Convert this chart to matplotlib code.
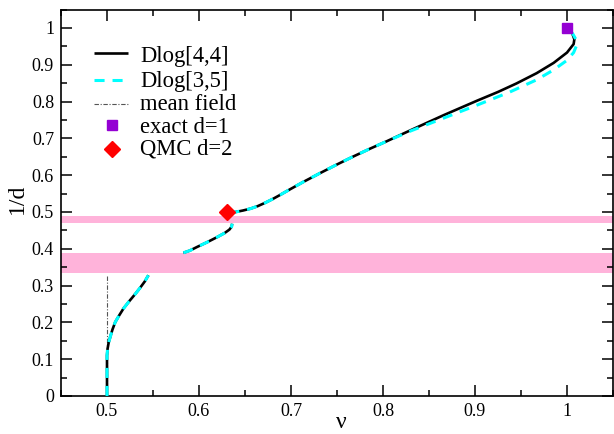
import matplotlib
matplotlib.use("Agg")
import matplotlib.pyplot as plt
from matplotlib.lines import Line2D
from matplotlib.ticker import MultipleLocator

plt.rcParams['font.family'] = ['Liberation Serif', 'DejaVu Serif']

# Dlog[4,4] branches (nu, 1/d)
d44_a_nu = [0.5, 0.5, 0.5006, 0.5018, 0.5036, 0.506, 0.509, 0.513, 0.518, 0.524, 0.531,
            0.536, 0.541, 0.545]
d44_a_y = [0.0, 0.11, 0.128, 0.145, 0.161, 0.181, 0.201, 0.218, 0.238, 0.257, 0.278,
           0.294, 0.311, 0.328]
d44_b_nu = [0.583, 0.590, 0.598, 0.609, 0.620, 0.628, 0.633, 0.6355, 0.636]
d44_b_y = [0.389, 0.395, 0.405, 0.418, 0.432, 0.443, 0.452, 0.460, 0.468]
d44_c_nu = [0.633, 0.640, 0.648, 0.656, 0.664, 0.672, 0.680, 0.688, 0.6957, 0.7137, 0.732,
            0.750, 0.768, 0.786, 0.804, 0.830, 0.866, 0.902, 0.925, 0.945, 0.967, 0.9855,
            1.000, 1.0072, 1.008, 1.006, 1.003, 1.000]
d44_c_y = [0.497, 0.500, 0.504, 0.509, 0.516, 0.525, 0.535, 0.546, 0.557, 0.582, 0.606,
           0.629, 0.651, 0.672, 0.692, 0.722, 0.763, 0.802, 0.826, 0.849, 0.877, 0.905,
           0.933, 0.956, 0.969, 0.983, 0.994, 1.000]

# Dlog[3,5] branches
d35_a_nu = d44_a_nu
d35_a_y = d44_a_y
d35_b_nu = d44_b_nu
d35_b_y = d44_b_y
d35_c_nu = [0.633, 0.640, 0.648, 0.656, 0.664, 0.672, 0.680, 0.688, 0.6957, 0.7137, 0.732,
            0.750, 0.768, 0.786, 0.804, 0.830, 0.866, 0.902, 0.938, 0.967, 0.9855, 1.000,
            1.0072, 1.011, 1.0094, 1.0065, 1.0036]
d35_c_y = [0.497, 0.500, 0.504, 0.509, 0.516, 0.525, 0.535, 0.546, 0.557, 0.582, 0.606,
           0.629, 0.651, 0.672, 0.692, 0.720, 0.755, 0.790, 0.826, 0.859, 0.886, 0.912,
           0.933, 0.956, 0.970, 0.983, 0.992]

# mean field
mf_nu = [0.5, 0.5]
mf_y = [0.0, 0.328]

# points
exact_nu, exact_y = [1.0], [1.0]
qmc_nu, qmc_y = [0.63], [0.5]

# excluded bands
bands = [(0.335, 0.388), (0.470, 0.489)]

labels = ['Dlog[4,4]', 'Dlog[3,5]', 'mean field', 'exact d=1', 'QMC d=2']

BLACK = 'black'
CYAN = '#00ffff'
PINK = '#ffb3da'
VIOLET = '#9400d3'
RED = '#ff0000'
MF = '#555555'

W, H = 614, 434
fig = plt.figure(figsize=(W / 100, H / 100), dpi=100)
ax_l, ax_r, ax_t, ax_b = 61, 613, 9.5, 396
ax = fig.add_axes([ax_l / W, (H - ax_b) / H, (ax_r - ax_l) / W, (ax_b - ax_t) / H])

for lo, hi in bands:
    ax.axhspan(lo, hi, color=PINK, lw=0, zorder=1)

black_kw = dict(color=BLACK, lw=1.9, solid_capstyle='butt')
cyan_kw = dict(color=CYAN, lw=2.2, dashes=(3.3, 2.6))
mf_kw = dict(color=MF, lw=0.8, dashes=(4, 1.5, 1, 1.5))

for nu, y in [(d44_a_nu, d44_a_y), (d44_b_nu, d44_b_y), (d44_c_nu, d44_c_y)]:
    ax.plot(nu, y, zorder=3, **black_kw)
for nu, y in [(d35_a_nu, d35_a_y), (d35_b_nu, d35_b_y), (d35_c_nu, d35_c_y)]:
    ax.plot(nu, y, zorder=4, **cyan_kw)
ax.plot(mf_nu, mf_y, zorder=2, **mf_kw)
ax.plot(exact_nu, exact_y, ls='none', marker='s', ms=7.5, color=VIOLET, mec=VIOLET, zorder=5)
ax.plot(qmc_nu, qmc_y, ls='none', marker='D', ms=8, color=RED, mec=RED, zorder=5)

ax.set_xlim(0.45, 1.05)
ax.set_ylim(0, 1.05)
ax.xaxis.set_minor_locator(MultipleLocator(0.05))
ax.yaxis.set_minor_locator(MultipleLocator(0.05))
ax.set_xticks([0.5, 0.6, 0.7, 0.8, 0.9, 1.0])
ax.set_xticklabels(['0.5', '0.6', '0.7', '0.8', '0.9', '1'])
ax.set_yticks([0, 0.1, 0.2, 0.3, 0.4, 0.5, 0.6, 0.7, 0.8, 0.9, 1.0])
ax.set_yticklabels(['0', '0.1', '0.2', '0.3', '0.4', '0.5', '0.6', '0.7', '0.8', '0.9', '1'])
ax.tick_params(which='both', direction='in', top=True, right=True, labelsize=13, width=1.1)
ax.tick_params(which='major', length=8, pad=5)
ax.tick_params(which='minor', length=4)
for s in ax.spines.values():
    s.set_linewidth(1.2)

ax.set_xlabel('ν', fontsize=17)
ax.xaxis.label.set_va('bottom')
ax.xaxis.set_label_coords((341 - ax_l) / (ax_r - ax_l), (ax_b - 433) / (ax_b - ax_t))
ax.set_ylabel('1/d', fontsize=17)
ax.yaxis.label.set_va('center')
ax.yaxis.set_label_coords((17.5 - ax_l) / (ax_r - ax_l), (ax_b - 199) / (ax_b - ax_t))

# legend drawn by hand (positions in pixels converted to axes fraction)
def fx(px):
    return (px - ax_l) / (ax_r - ax_l)

def fy(py):
    return (ax_b - py) / (ax_b - ax_t)

handle_y = [53, 79.7, 103.7, 125.3, 148.7]
text_base = [62, 86.5, 110.5, 133, 155]
line_kws = [black_kw, cyan_kw, mf_kw]
for i, kw in enumerate(line_kws):
    ax.add_line(Line2D([fx(94), fx(128.3)], [fy(handle_y[i])] * 2, transform=ax.transAxes,
                       clip_on=False, **kw))
ax.add_line(Line2D([fx(111.7)], [fy(handle_y[3])], transform=ax.transAxes, ls='none',
                   marker='s', ms=7.5, color=VIOLET, mec=VIOLET))
ax.add_line(Line2D([fx(111.7)], [fy(handle_y[4])], transform=ax.transAxes, ls='none',
                   marker='D', ms=8, color=RED, mec=RED))
for i, lab in enumerate(labels):
    ax.text(fx(140), fy(text_base[i]), lab, transform=ax.transAxes, fontsize=16.3,
            ha='left', va='baseline')

fig.savefig('out.png', dpi=100)
